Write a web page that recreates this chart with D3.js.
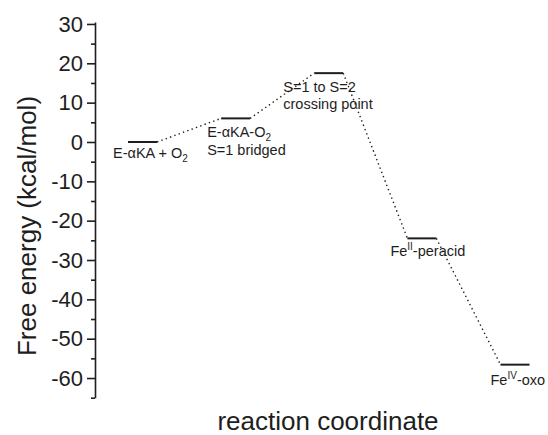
<!DOCTYPE html>
<html>
<head>
<meta charset="utf-8">
<script src="https://cdn.jsdelivr.net/npm/d3@7"></script>
<style>
  html, body { margin: 0; padding: 0; background: #fff; }
  svg { display: block; font-family: "Liberation Sans", Arial, sans-serif; }
</style>
</head>
<body>
<svg id="chart" width="548" height="435"></svg>
<script>
// Reaction states along the coordinate and their free energies (kcal/mol)
const states = ["E-aKA+O2", "E-aKA-O2 bridged", "S1-S2 crossing", "FeII-peracid", "FeIV-oxo"];
const energies = [0, 6, 17.5, -24.5, -56.6];

// Label lines for each state: arrays of [text, shift] segments (shift: "sub", "sup" or "")
const labelLines = [
  [[["E-\u03B1KA + O", ""], ["2", "sub"]]],
  [[["E-\u03B1KA-O", ""], ["2", "sub"]], [["S=1 bridged", ""]]],
  [[["S=1 to S=2", ""]], [["crossing point", ""]]],
  [[["Fe", ""], ["II", "sup"], ["-peracid", ""]]],
  [[["Fe", ""], ["IV", "sup"], ["-oxo", ""]]]
];

// Y axis ticks
const majorTicks = [30, 20, 10, 0, -10, -20, -30, -40, -50, -60];
const minorTicks = [25, 15, 5, -5, -15, -25, -35, -45, -55, -65];

const yTitle = "Free energy (kcal/mol)";
const xTitle = "reaction coordinate";

const svg = d3.select("#chart");
const ink = "#1e1e1e";

const y = d3.scaleLinear().domain([-65, 30.5]).range([397.7, 22]);
const x = d3.scaleLinear().domain([0, states.length - 1]).range([142.5, 515]);
const halfBar = 14.5;

// Label placement relative to each level's left end: [dx, dy of first baseline]
const labelOffset = [[-15, 16], [-14, 19], [-31, 18.5], [-17, 18], [-10, 20]];
const lineGap = 17.5;

// Left axis with major and minor ticks (plain hyphen for negatives)
const axisG = svg.append("g").attr("transform", "translate(95,0)");
axisG.call(d3.axisLeft(y).tickValues(majorTicks).tickSize(8).tickSizeOuter(0).tickPadding(4)
  .tickFormat(d => String(d)));
axisG.append("g").call(d3.axisLeft(y).tickValues(minorTicks).tickSize(4).tickFormat(""))
  .select(".domain").remove();
axisG.selectAll("path.domain, line").attr("stroke", ink).attr("stroke-width", 1.6);
axisG.selectAll("text").attr("font-size", 22).attr("fill", ink)
  .attr("font-family", "'Liberation Sans', Arial, sans-serif");

// Dotted connectors between consecutive levels
const conn = d3.range(states.length - 1);
svg.append("g").selectAll("line").data(conn).join("line")
  .attr("x1", i => x(i) + halfBar).attr("y1", i => y(energies[i]))
  .attr("x2", i => x(i + 1) - halfBar).attr("y2", i => y(energies[i + 1]))
  .attr("stroke", ink).attr("stroke-width", 1.4)
  .attr("stroke-dasharray", "1.4,3.2");

// Energy levels
svg.append("g").selectAll("line").data(energies).join("line")
  .attr("x1", (d, i) => x(i) - halfBar).attr("x2", (d, i) => x(i) + halfBar)
  .attr("y1", d => y(d)).attr("y2", d => y(d))
  .attr("stroke", ink).attr("stroke-width", 2);

// State labels with sub/superscript segments
const labG = svg.append("g").attr("font-size", 14.5).attr("fill", ink);
labelLines.forEach((lines, i) => {
  const x0 = x(i) - halfBar + labelOffset[i][0];
  const y0 = y(energies[i]) + labelOffset[i][1];
  lines.forEach((segs, k) => {
    const t = labG.append("text").attr("x", x0).attr("y", y0 + k * lineGap);
    let offset = 0;
    segs.forEach(([txt, shift]) => {
      const target = shift === "sub" ? 4 : shift === "sup" ? -6 : 0;
      const ts = t.append("tspan").text(txt).attr("dy", target - offset);
      if (shift) ts.attr("font-size", 10);
      offset = target;
    });
  });
});

// Axis titles
svg.append("text")
  .attr("transform", "translate(36,226) rotate(-90)")
  .attr("text-anchor", "middle").attr("font-size", 26).attr("fill", ink)
  .text(yTitle);
svg.append("text")
  .attr("x", 328).attr("y", 430)
  .attr("text-anchor", "middle").attr("font-size", 26).attr("fill", ink)
  .text(xTitle);
</script>
</body>
</html>
